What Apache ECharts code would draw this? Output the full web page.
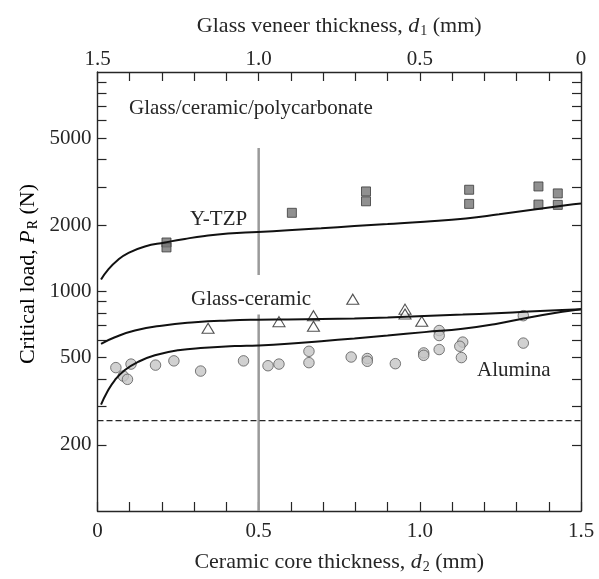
<!DOCTYPE html>
<html>
<head>
<meta charset="utf-8">
<script src="https://cdn.jsdelivr.net/npm/echarts@6/dist/echarts.min.js"></script>
<style>
  html, body { margin: 0; padding: 0; background: #fff; }
  #chart { width: 599px; height: 579px; }
</style>
</head>
<body>
<div id="chart"></div>
<script>
// Critical load P_R versus ceramic core thickness d2 (veneer thickness d1 = 1.5 - d2)

// Measured points: [d2 (mm), P_R (N)]
const ytzpPoints = [
  [0.214, 1672], [0.214, 1588], [0.603, 2283], [0.833, 2857], [0.833, 2576],
  [1.153, 2908], [1.153, 2507], [1.368, 3010], [1.368, 2489], [1.428, 2798], [1.428, 2481]
];
const glassCeramicPoints = [
  [0.343, 680], [0.563, 729], [0.670, 776], [0.670, 694], [0.792, 922],
  [0.954, 831], [0.954, 789], [1.006, 731]
];
const aluminaPoints = [
  [0.057, 450], [0.080, 412], [0.093, 398], [0.104, 467], [0.180, 462],
  [0.237, 483], [0.320, 434], [0.453, 483], [0.529, 459], [0.563, 467],
  [0.656, 534], [0.656, 474], [0.787, 503], [0.837, 495], [0.837, 481],
  [0.924, 469], [1.012, 525], [1.012, 512], [1.060, 664], [1.060, 630],
  [1.060, 544], [1.133, 588], [1.124, 563], [1.129, 500], [1.321, 776], [1.321, 582]
];

// Model curves: [d2 (mm), P_R (N)]
const ytzpCurve = [
  [0.011, 1134], [0.033, 1259], [0.064, 1396], [0.095, 1497], [0.147, 1604],
  [0.209, 1672], [0.271, 1736], [0.333, 1791], [0.405, 1836], [0.498, 1867],
  [0.591, 1900], [0.694, 1940], [0.797, 1987], [0.900, 2029], [1.014, 2080],
  [1.143, 2153], [1.246, 2250], [1.349, 2360], [1.453, 2470], [1.500, 2515]
];
const glassCeramicCurve = [
  [0.011, 578], [0.054, 619], [0.116, 664], [0.199, 699], [0.302, 724],
  [0.405, 738], [0.498, 744], [0.591, 746], [0.694, 749], [0.797, 754],
  [0.900, 762], [1.014, 774], [1.133, 785], [1.236, 797], [1.339, 810],
  [1.442, 824], [1.500, 831]
];
const aluminaCurve = [
  [0.011, 305], [0.028, 344], [0.054, 395], [0.085, 439], [0.126, 478],
  [0.178, 512], [0.250, 540], [0.333, 554], [0.426, 564], [0.498, 568],
  [0.591, 578], [0.694, 594], [0.797, 611], [0.900, 630], [1.014, 653],
  [1.133, 676], [1.236, 711], [1.339, 762], [1.442, 809], [1.500, 831]
];

// Reference lines
const substrateLoad = 258;              // dashed horizontal level (N)
const splitThickness = 0.5;             // grey vertical marker at d2 = 0.5 mm
const splitUpper = [4500, 1190];        // upper grey segment (N)
const splitLower = [786, 100];          // lower grey segment (N)

// Axis ticks and labels
const d2TickValues = [0, 0.1, 0.2, 0.3, 0.4, 0.5, 0.6, 0.7, 0.8, 0.9, 1.0, 1.1, 1.2, 1.3, 1.4, 1.5];
const d2LabelValues = [0, 0.5, 1.0, 1.5];
const d1LabelValues = [1.5, 1.0, 0.5, 0];
const loadTickValues = [200, 300, 400, 500, 600, 700, 800, 900, 1000, 2000, 3000, 4000, 5000, 6000, 7000, 8000, 9000];
const loadLabelValues = [200, 500, 1000, 2000, 5000];

const FONT = '"Liberation Serif", "DejaVu Serif", serif';
const INK = '#262626';
const FS = 21;      // tick labels and annotations
const TS = 22;      // axis titles

const chart = echarts.init(document.getElementById('chart'), null, { renderer: 'canvas' });

const thickFmt = v => (Math.abs(v) < 1e-9 ? '0' : Number(v).toFixed(1));
const nameRich = {
  n: { fontFamily: FONT, fontSize: TS, color: INK },
  i: { fontFamily: FONT, fontSize: TS, color: INK, fontStyle: 'italic' },
  s: { fontFamily: FONT, fontSize: 14, color: INK, padding: [10, 0, 0, 1] }
};

const axisLineStyle = { show: true, onZero: false, lineStyle: { color: INK, width: 1.4 } };
const tickStyle = { show: true, inside: true, length: 9, lineStyle: { color: INK, width: 1.2 } };
const labelFont = { fontFamily: FONT, fontSize: FS, color: INK };

chart.setOption({
  animation: false,
  backgroundColor: '#fff',
  grid: { left: 97.5, right: 18, top: 72, bottom: 63.3, containLabel: false },
  xAxis: [
    {
      type: 'value', position: 'bottom', min: 0, max: 1.5,
      axisLine: axisLineStyle,
      axisTick: Object.assign({ customValues: d2TickValues }, tickStyle),
      axisLabel: Object.assign({ customValues: d2LabelValues, formatter: thickFmt, margin: 10 }, labelFont),
      splitLine: { show: false },
      name: '{n|Ceramic core thickness, }{i|d}{s|2}{n| (mm)}',
      nameLocation: 'middle', nameGap: 39,
      nameTextStyle: { rich: nameRich }
    },
    {
      type: 'value', position: 'top', min: 0, max: 1.5, inverse: true,
      axisLine: axisLineStyle,
      axisTick: Object.assign({ customValues: d2TickValues }, tickStyle),
      axisLabel: Object.assign({ customValues: d1LabelValues, formatter: thickFmt, margin: 2 }, labelFont),
      splitLine: { show: false },
      name: '{n|Glass veneer thickness, }{i|d}{s|1}{n| (mm)}',
      nameLocation: 'middle', nameGap: 34,
      nameTextStyle: { rich: nameRich }
    }
  ],
  yAxis: [
    {
      type: 'log', logBase: 10, min: 100, max: 10000, position: 'left',
      axisLine: axisLineStyle,
      axisTick: Object.assign({ customValues: loadTickValues }, tickStyle),
      axisLabel: Object.assign({ customValues: loadLabelValues, formatter: v => String(Math.round(v)), margin: 6 }, labelFont),
      splitLine: { show: false }
    },
    {
      type: 'log', logBase: 10, min: 100, max: 10000, position: 'right',
      axisLine: axisLineStyle,
      axisTick: Object.assign({ customValues: loadTickValues }, tickStyle),
      axisLabel: { show: false },
      splitLine: { show: false }
    }
  ],
  series: [
    {
      name: 'split-upper', type: 'line', xAxisIndex: 0, yAxisIndex: 0,
      data: splitUpper.map(p => [splitThickness, p]),
      symbol: 'none', lineStyle: { color: '#9a9a9a', width: 2.5 }, z: 1, silent: true
    },
    {
      name: 'split-lower', type: 'line', xAxisIndex: 0, yAxisIndex: 0,
      data: splitLower.map(p => [splitThickness, p]),
      symbol: 'none', lineStyle: { color: '#9a9a9a', width: 2.5 }, z: 1, silent: true
    },
    {
      name: 'substrate', type: 'line', xAxisIndex: 0, yAxisIndex: 0,
      data: [[0, substrateLoad], [1.5, substrateLoad]],
      symbol: 'none', lineStyle: { color: INK, width: 1.1, type: [6, 3] }, z: 1, silent: true
    },
    {
      name: 'Y-TZP', type: 'scatter', data: ytzpPoints,
      symbol: 'rect', symbolSize: 9,
      itemStyle: { color: '#747474', borderColor: '#3a3a3a', borderWidth: 1 }, z: 3
    },
    {
      name: 'Glass-ceramic', type: 'scatter', data: glassCeramicPoints,
      symbol: 'triangle', symbolSize: [12, 10],
      itemStyle: { color: '#ffffff', borderColor: '#262626', borderWidth: 1.1 }, z: 3
    },
    {
      name: 'Alumina', type: 'scatter', data: aluminaPoints,
      symbol: 'circle', symbolSize: 10.5,
      itemStyle: { color: '#c6c6c6', borderColor: '#5a5a5a', borderWidth: 1 }, z: 3
    },
    {
      name: 'Y-TZP fit', type: 'line', data: ytzpCurve, smooth: 0.5,
      symbol: 'none', lineStyle: { color: '#111', width: 2 }, z: 4
    },
    {
      name: 'Glass-ceramic fit', type: 'line', data: glassCeramicCurve, smooth: 0.5,
      symbol: 'none', lineStyle: { color: '#111', width: 2 }, z: 4
    },
    {
      name: 'Alumina fit', type: 'line', data: aluminaCurve, smooth: 0.5,
      symbol: 'none', lineStyle: { color: '#111', width: 2 }, z: 4
    }
  ],
  graphic: [
    {
      type: 'text', x: 28, y: 274, rotation: Math.PI / 2,
      style: { text: '{n|Critical load, }{i|P}{s|R}{n| (N)}', rich: nameRich, align: 'center', verticalAlign: 'middle' }
    },
    { type: 'text', left: 129, top: 98, style: { text: 'Glass/ceramic/polycarbonate', font: FS + 'px ' + FONT, fill: INK } },
    { type: 'text', left: 190, top: 209, style: { text: 'Y-TZP', font: FS + 'px ' + FONT, fill: INK } },
    { type: 'text', left: 191, top: 289, style: { text: 'Glass-ceramic', font: FS + 'px ' + FONT, fill: INK } },
    { type: 'text', left: 477, top: 360, style: { text: 'Alumina', font: FS + 'px ' + FONT, fill: INK } }
  ]
});
</script>
</body>
</html>
